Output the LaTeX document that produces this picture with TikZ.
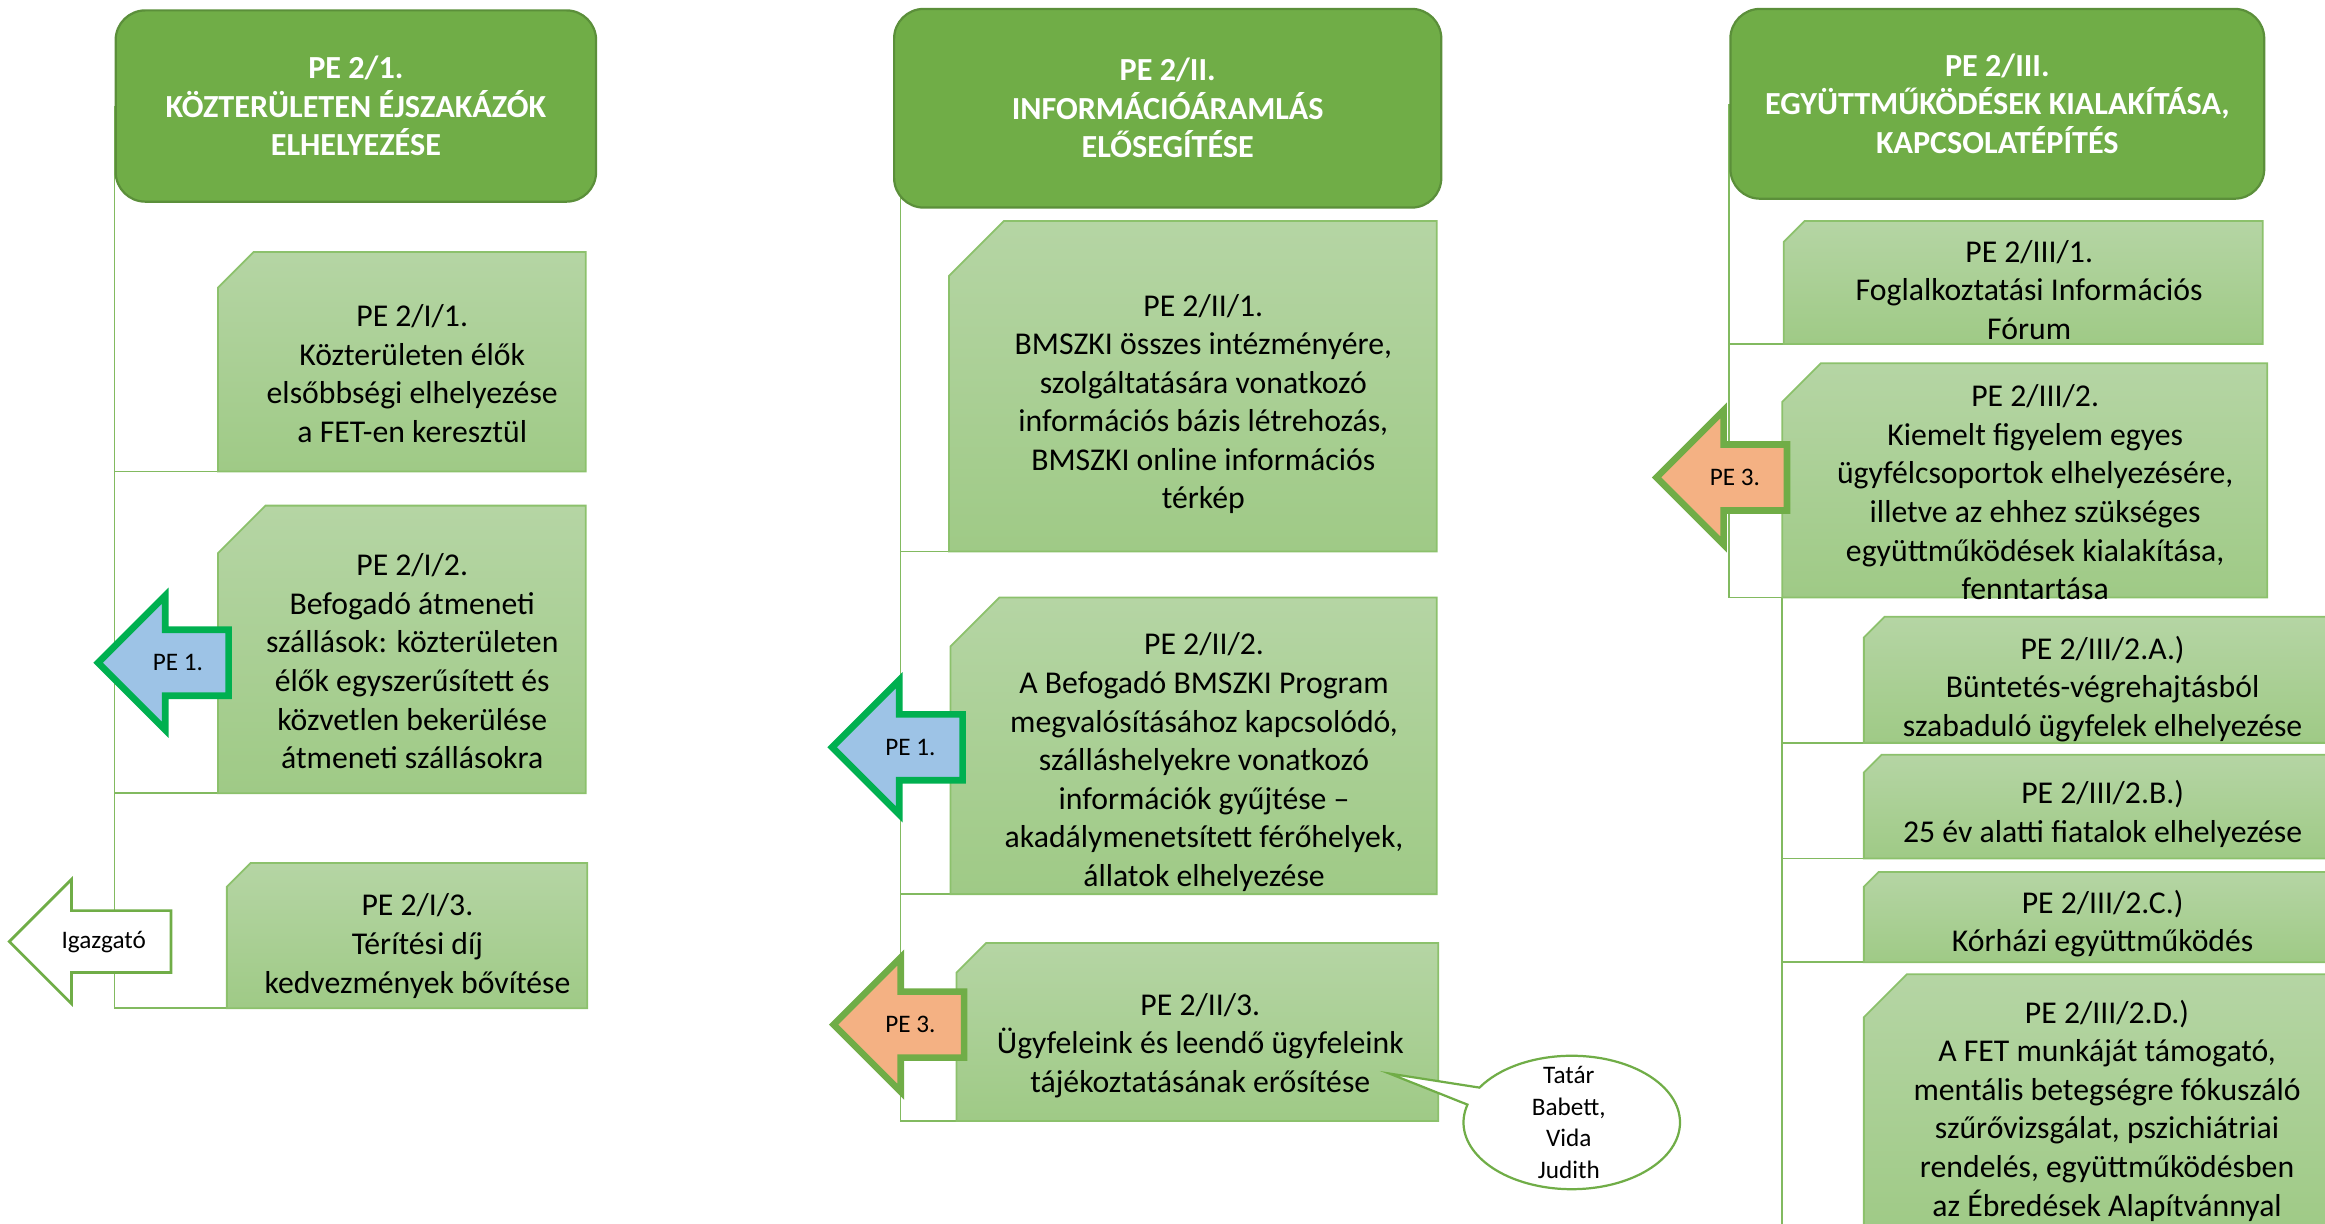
\documentclass[tikz,border=0pt]{standalone}
\usepackage{fontspec}
\setmainfont{Carlito}
\usetikzlibrary{shapes.arrows,shapes.callouts,backgrounds}

\definecolor{hdrfill}{HTML}{70AD47}
\definecolor{hdrdraw}{HTML}{5B8F3A}
\definecolor{boxtop}{HTML}{B5D5A4}
\definecolor{boxbot}{HTML}{9FCA86}
\definecolor{boxdraw}{HTML}{8CC16C}
\definecolor{treecol}{HTML}{82BA60}
\definecolor{pefill}{HTML}{9DC3E6}
\definecolor{pedraw}{HTML}{00B050}
\definecolor{orfill}{HTML}{F4B183}

\tikzset{
  hdr/.style={rectangle, rounded corners=20pt, fill=hdrfill, draw=hdrdraw, line width=1.5pt,
    inner sep=0pt, text=white, font=\bfseries\fontsize{21.7}{26}\selectfont, align=center},
  frame/.style={rectangle, inner sep=0pt, outer sep=0pt},
  snip/.style={top color=boxtop, bottom color=boxbot, draw=boxdraw, line width=1.2pt},
  boxtxt/.style={font=\fontsize{21.4}{26}\selectfont, align=center, inner sep=0pt, yshift=-7pt},
  arrtxt/.style={font=\fontsize{17}{21.5}\selectfont, align=center, inner sep=0pt},
  pearrow/.style={single arrow, shape border rotate=180, single arrow head extend=23pt,
    inner xsep=0pt, inner ysep=20pt, line width=4.5pt, minimum height=88pt, anchor=tip},
  tree/.style={draw=treecol, line width=1.2pt}
}

% box with the top left corner cut off
\newcommand{\cutbox}[2]{%
  \path[snip] (#1.south west) -- (#1.south east) -- (#1.north east)
    -- ([xshift=#2]#1.north west) -- ([yshift=-#2]#1.north west) -- cycle;}

\begin{document}
\begin{tikzpicture}[x=1pt,y=-1pt]
\useasboundingbox (0,0) rectangle (1568,825);
\clip (0,0) rectangle (1568,825);

% column 1
\node[hdr, minimum width=324pt, minimum height=129pt] (h1) at (240,71.5) {PE 2/1.\\KÖZTERÜLETEN ÉJSZAKÁZÓK\\ELHELYEZÉSE};
\node[frame, minimum width=248pt, minimum height=148pt] (b11) at (271,244) {};
\cutbox{b11}{24pt}
\node[boxtxt] (t11) at ([xshift=7pt,yshift=-1pt]b11.center) {PE 2/I/1.\\Közterületen élők\\elsőbbségi elhelyezése\\a FET-en keresztül};
\node[frame, minimum width=248pt, minimum height=194pt] (b12) at (271,438) {};
\cutbox{b12}{32pt}
\node[boxtxt] (t12) at ([xshift=7pt,yshift=-1pt]b12.center) {PE 2/I/2.\\Befogadó átmeneti\\szállások: közterületen\\élők egyszerűsített és\\közvetlen bekerülése\\átmeneti szállásokra};
\node[frame, minimum width=243pt, minimum height=98pt] (b13) at (274.5,631) {};
\cutbox{b13}{16pt}
\node[boxtxt] (t13) at ([xshift=7pt]b13.center) {PE 2/I/3.\\Térítési díj\\kedvezmények bővítése};

% column 2
\node[hdr, minimum width=369pt, minimum height=134pt] (h2) at (787.5,73) {PE 2/II.\\INFORMÁCIÓÁRAMLÁS\\ELŐSEGÍTÉSE};
\node[frame, minimum width=329pt, minimum height=223pt] (b21) at (804.5,260.5) {};
\cutbox{b21}{37pt}
\node[boxtxt] (t21) at ([xshift=7pt,yshift=-5pt]b21.center) {PE 2/II/1.\\BMSZKI összes intézményére,\\szolgáltatására vonatkozó\\információs bázis létrehozás,\\BMSZKI online információs\\térkép};
\node[frame, minimum width=328pt, minimum height=200pt] (b22) at (805,503) {};
\cutbox{b22}{33pt}
\node[boxtxt] (t22) at ([xshift=7pt,yshift=-4pt]b22.center) {PE 2/II/2.\\A Befogadó BMSZKI Program\\megvalósításához kapcsolódó,\\szálláshelyekre vonatkozó\\információk gyűjtése –\\akadálymenetsített férőhelyek,\\állatok elhelyezése};
\node[frame, minimum width=325pt, minimum height=120pt] (b23) at (807.5,696) {};
\cutbox{b23}{20pt}
\node[boxtxt] (t23) at ([xshift=2pt,yshift=-2pt]b23.center) {PE 2/II/3.\\Ügyfeleink és leendő ügyfeleink\\tájékoztatásának erősítése};

% column 3
\node[hdr, minimum width=360pt, minimum height=128pt] (h3) at (1347,70) {PE 2/III.\\EGYÜTTMŰKÖDÉSEK KIALAKÍTÁSA,\\KAPCSOLATÉPÍTÉS};
\node[frame, minimum width=323pt, minimum height=83pt] (b31) at (1364.5,190.5) {};
\cutbox{b31}{14pt}
\node[boxtxt] (t31) at ([xshift=4pt,yshift=2pt]b31.center) {PE 2/III/1.\\Foglalkoztatási Információs\\Fórum};
\node[frame, minimum width=327pt, minimum height=158pt] (b32) at (1365.5,324) {};
\cutbox{b32}{26pt}
\node[boxtxt] (t32) at ([xshift=7pt,yshift=-1pt]b32.center) {PE 2/III/2.\\Kiemelt figyelem egyes\\ügyfélcsoportok elhelyezésére,\\illetve az ehhez szükséges\\együttműködések kialakítása,\\fenntartása};
\node[frame, minimum width=323pt, minimum height=85pt] (b3a) at (1418.5,458.5) {};
\cutbox{b3a}{14pt}
\node[boxtxt] (t3a) at (1418,457.5) {PE 2/III/2.A.)\\Büntetés-végrehajtásból\\szabaduló ügyfelek elhelyezése};
\node[frame, minimum width=323pt, minimum height=70pt] (b3b) at (1418.5,544) {};
\cutbox{b3b}{12pt}
\node[boxtxt] (t3b) at (1418,542) {PE 2/III/2.B.)\\25 év alatti fiatalok elhelyezése};
\node[frame, minimum width=323pt, minimum height=61pt] (b3c) at (1418.5,618.5) {};
\cutbox{b3c}{10pt}
\node[boxtxt] (t3c) at (1418,616) {PE 2/III/2.C.)\\Kórházi együttműködés};
\node[frame, minimum width=323pt, minimum height=174pt] (b3d) at (1418.5,744) {};
\cutbox{b3d}{29pt}
\node[boxtxt] (t3d) at (1421,742) {PE 2/III/2.D.)\\A FET munkáját támogató,\\mentális betegségre fókuszáló\\szűrővizsgálat, pszichiátriai\\rendelés, együttműködésben\\az Ébredések Alapítvánnyal};

% tree lines
\begin{scope}[on background layer]
\coordinate (v2) at ([xshift=5pt]h2.west);
\draw[tree] (h1.west) |- (b11.south west);
\draw[tree] (h1.west) |- (b12.south west);
\draw[tree] ([yshift=-3pt]h1.west) |- (b13.south west);
\draw[tree] (v2) |- (b21.south west);
\draw[tree] (v2) |- (b22.south west);
\draw[tree] (v2) |- (b23.south west);
\draw[tree] (h3.west) |- (b31.south west);
\draw[tree] (h3.west) |- (b32.south west);
\draw[tree] (b32.south west) |- (b3a.south west);
\draw[tree] (b32.south west) |- (b3b.south west);
\draw[tree] (b32.south west) |- (b3c.south west);
\draw[tree] (b32.south west) |- (b3d.south west);
\end{scope}

% arrows
\node[pearrow, fill=pefill, draw=pedraw] (a12) at (63,447) {};
\node[arrtxt] (t12a) at ([xshift=57pt]a12.tip) {PE 1.};
\node[pearrow, fill=white, draw=hdrfill, line width=1.8pt, single arrow head extend=21pt,
  minimum height=109pt] (a13) at (5,635) {};
\node[arrtxt] (t13a) at ([xshift=65pt]a13.tip) {Igazgató};
\node[pearrow, fill=pefill, draw=pedraw] (a22) at (558,504) {};
\node[arrtxt] (t22a) at ([xshift=56pt]a22.tip) {PE 1.};
\node[pearrow, fill=orfill, draw=hdrfill] (a23) at (559,691) {};
\node[arrtxt] (t23a) at ([xshift=55pt]a23.tip) {PE 3.};
\node[pearrow, fill=orfill, draw=hdrfill] (a32) at (1114,322) {};
\node[arrtxt] (t32a) at ([xshift=56pt]a32.tip) {PE 3.};

% callout
\coordinate (p23) at (937,724);
\node[ellipse callout, fill=white, draw=hdrfill, line width=1.5pt, inner sep=0pt,
  minimum width=146pt, minimum height=90pt, callout absolute pointer=(p23),
  callout pointer arc=16] (c23) at (1060,757) {};
\node[arrtxt] (t23c) at (1058,757) {Tatár\\Babett,\\Vida\\Judith};
\end{tikzpicture}
\end{document}
